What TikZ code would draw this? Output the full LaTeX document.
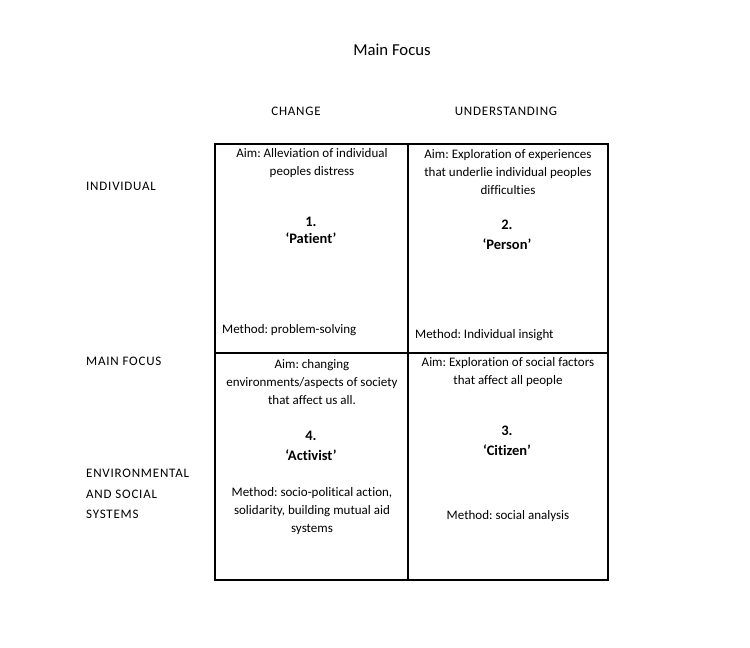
\documentclass[tikz,border=0pt]{standalone}
\usepackage{fontspec}
\setmainfont[Ligatures=NoCommon]{Carlito}
\frenchspacing
\begin{document}
\begin{tikzpicture}[x=1pt,y=-1pt,
  txt/.style={font=\fontsize{13}{18}\selectfont, inner sep=0pt, align=center, yshift=-1.5pt},
  caps/.style={font=\fontsize{13}{20.5}\selectfont\addfontfeature{LetterSpace=6}, inner sep=0pt, yshift=-1.5pt},
  lbl/.style={caps, align=left, anchor=west},
  num/.style={inner sep=0pt, align=center, yshift=-1pt},
  grid/.style={line width=1.2pt, black}]
\useasboundingbox (0,0) rectangle (750,648);
% title and headers
\node[font=\fontsize{16.7}{20}\selectfont, inner sep=0pt, yshift=-1.5pt] (title) at (392,48) {Main Focus};
\node[caps] (change) at (296,110) {CHANGE};
\node[caps] (under) at (506,110) {UNDERSTANDING};
% left labels
\node[lbl] (indiv) at (86,185) {INDIVIDUAL};
\node[lbl] (mainf) at (86,360) {MAIN FOCUS};
\node[lbl] (env) at (86,492.5) {ENVIRONMENTAL\\AND SOCIAL\\SYSTEMS};
% grid
\draw[grid] (215,144) rectangle (608,580);
\draw[grid] (408,144) -- (408,580);
\draw[grid] (215,353) -- (608,353);
% cell 1
\node[txt] (a1) at (312,162) {Aim: Alleviation of individual\\peoples distress};
\node[num, font=\fontsize{14.5}{17}\selectfont\bfseries] (n1) at (311,229.5) {1.\\‘Patient’};
\node[txt, anchor=west] (m1) at (222,329) {Method: problem-solving};
% cell 2
\node[txt] (a2) at (508,171) {Aim: Exploration of experiences\\that underlie individual peoples\\difficulties};
\node[num, font=\fontsize{14.5}{20}\selectfont\bfseries] (n2) at (507,234) {2.\\‘Person’};
\node[txt, anchor=west] (m2) at (415,334) {Method: Individual insight};
% cell 4
\node[txt] (a4) at (312,380.5) {Aim: changing\\environments/aspects of society\\that affect us all.};
\node[num, font=\fontsize{14.5}{20}\selectfont\bfseries] (n4) at (311,445) {4.\\‘Activist’};
\node[txt] (m4) at (312,510) {Method: socio-political action,\\solidarity, building mutual aid\\systems};
% cell 3
\node[txt] (a3) at (508,371) {Aim: Exploration of social factors\\that affect all people};
\node[num, font=\fontsize{14.5}{20}\selectfont\bfseries] (n3) at (507,440) {3.\\‘Citizen’};
\node[txt] (m3) at (508,515) {Method: social analysis};
\end{tikzpicture}
\end{document}
